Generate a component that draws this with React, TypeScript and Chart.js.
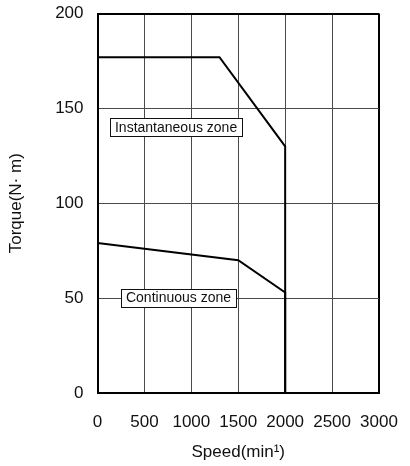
import React, { useEffect, useRef } from "react";
import { Chart, registerables } from "chart.js";

Chart.register(...registerables);

const xTicks = [0, 500, 1000, 1500, 2000, 2500, 3000];
const yTicks = [0, 50, 100, 150, 200];

const instSpeed = [0, 1300, 2000, 2000];
const instTorque = [177, 177, 130, 0];
const contSpeed = [0, 1500, 2000, 2000];
const contTorque = [79, 70, 53, 0];

const zoneLabels = ["Instantaneous zone", "Continuous zone"];
const zoneLabelX = [133, 250];
const zoneLabelY = [140, 50];

const FONT = "'Liberation Sans', Arial, sans-serif";

const zonePlugin = {
  id: "zoneLabels",
  afterDatasetsDraw(chart: any) {
    const { ctx, scales } = chart;
    ctx.save();
    ctx.font = `14px ${FONT}`;
    ctx.textBaseline = "middle";
    ctx.textAlign = "left";
    zoneLabels.forEach((t, i) => {
      const x = scales.x.getPixelForValue(zoneLabelX[i]);
      const y = scales.y.getPixelForValue(zoneLabelY[i]);
      const w = ctx.measureText(t).width + 10;
      const h = 18;
      ctx.fillStyle = "#fff";
      ctx.fillRect(x, y - h / 2, w, h);
      ctx.strokeStyle = "#111";
      ctx.lineWidth = 1;
      ctx.strokeRect(Math.round(x) + 0.5, Math.round(y - h / 2) + 0.5, Math.round(w), h);
      ctx.fillStyle = "#111";
      ctx.fillText(t, x + 5, y + 0.5);
    });
    ctx.restore();
  },
};

export default function App() {
  const ref = useRef<HTMLCanvasElement>(null);
  useEffect(() => {
    document.body.style.margin = "0";
    const toPts = (xs: number[], ys: number[]) => xs.map((x, i) => ({ x, y: ys[i] }));
    const chart = new Chart(ref.current!, {
      type: "line",
      data: {
        datasets: [
          {
            data: toPts(instSpeed, instTorque),
            borderColor: "#000",
            borderWidth: 2,
            pointRadius: 0,
            fill: false,
            tension: 0,
            clip: false as any,
          },
          {
            data: toPts(contSpeed, contTorque),
            borderColor: "#000",
            borderWidth: 2,
            pointRadius: 0,
            fill: false,
            tension: 0,
            clip: false as any,
          },
        ],
      },
      options: {
        animation: false,
        responsive: false,
        maintainAspectRatio: false,
        layout: { padding: { top: 13.5, right: 31, left: 0, bottom: 0 } },
        plugins: { legend: { display: false }, tooltip: { enabled: false } },
        scales: {
          x: {
            type: "linear",
            min: 0,
            max: 3000,
            afterBuildTicks: (s: any) => {
              s.ticks = xTicks.map((v) => ({ value: v }));
            },
            afterFit: (s: any) => {
              s.height = 73;
              s.paddingLeft = 0;
              s.paddingRight = 0;
            },
            ticks: {
              color: "#111",
              font: { family: FONT, size: 17 },
              padding: 19,
              maxRotation: 0,
              autoSkip: false,
              callback: (v: any) => String(v),
            },
            grid: {
              drawTicks: false,
              color: (c: any) => (c.tick && c.tick.value === 3000 ? "#000" : "#4a4a4a"),
              lineWidth: (c: any) => (c.tick && c.tick.value === 3000 ? 2 : 1),
            },
            border: { color: "#000", width: 2 },
            title: {
              display: true,
              text: "Speed(min\u00b9)",
              color: "#111",
              font: { family: FONT, size: 17 },
              padding: { top: 0, bottom: 3 },
            },
          },
          y: {
            type: "linear",
            min: 0,
            max: 200,
            afterBuildTicks: (s: any) => {
              s.ticks = yTicks.map((v) => ({ value: v }));
            },
            afterFit: (s: any) => {
              s.width = 97.5;
              s.paddingTop = 0;
              s.paddingBottom = 0;
            },
            ticks: {
              color: "#111",
              font: { family: FONT, size: 17 },
              padding: 14,
              autoSkip: false,
              callback: (v: any) => String(v),
            },
            grid: {
              drawTicks: false,
              color: (c: any) => (c.tick && c.tick.value === 200 ? "#000" : "#4a4a4a"),
              lineWidth: (c: any) => (c.tick && c.tick.value === 200 ? 2 : 1),
            },
            border: { color: "#000", width: 2 },
            title: {
              display: true,
              text: "Torque(N\u00b7 m)",
              color: "#111",
              font: { family: FONT, size: 17 },
              padding: { top: 6, bottom: 0 },
            },
          },
        },
      },
      plugins: [zonePlugin],
    });
    return () => chart.destroy();
  }, []);
  return (
    <div style={{ width: 410, height: 466, background: "#fff" }}>
      <canvas ref={ref} width={410} height={466} style={{ display: "block" }} />
    </div>
  );
}
